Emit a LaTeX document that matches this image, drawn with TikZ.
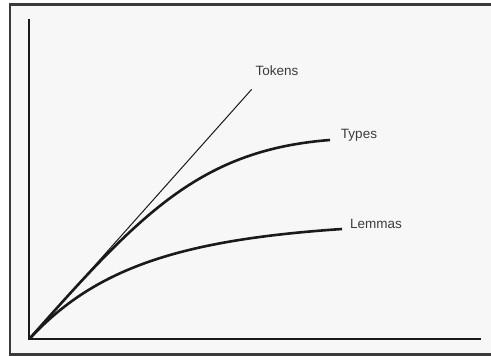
\documentclass[tikz,border=0pt]{standalone}
\usepackage{fontspec}
\setmainfont{Liberation Sans}
\definecolor{paper}{HTML}{F7F7F7}
\definecolor{frame}{HTML}{3A3A3A}
\definecolor{ink}{HTML}{1A1A1A}
\tikzset{
  axisline/.style={ink, line width=2pt},
  growth/.style={ink, line width=2.6pt},
  label/.style={font=\fontsize{13.5}{14}\selectfont, text=ink!85, inner sep=0pt}
}
\begin{document}
\begin{tikzpicture}[x=1pt,y=-1pt]
\useasboundingbox (0,0) rectangle (491,356);
% background and frame
				\fill[white] (0,0) rectangle (491,356);
				\fill[paper] (10,4.5) rectangle (491,354.5);
				\draw[frame, line width=2.2pt] (491,4.5) -- (10,4.5) -- (10,354.5) -- (491,354.5);
% points
				\coordinate (O) at (29.3,339);
				\coordinate (ytop) at (29.3,19);
				\coordinate (xend) at (481,339);
				\coordinate (tokensend) at (251.7,89.3);
				\coordinate (typesend) at (330,140);
				\coordinate (lemmasend) at (342,229);
% draw axis
				\draw[axisline] (ytop) -- (O) -- (xend);
% draw curves
				\draw[ink, line width=1pt] (O) -- (tokensend);
				\draw[growth] (O) .. controls (140,214) and (200,150) .. (typesend);
				\draw[growth] (O) .. controls (95,268) and (180,240) .. (lemmasend);
% labels
				\node[label] (tokens) at (277,71) {Tokens};
				\node[label] (types) at (359,135) {Types};
				\node[label] (lemmas) at (376,224) {Lemmas};
\end{tikzpicture}
\end{document}
